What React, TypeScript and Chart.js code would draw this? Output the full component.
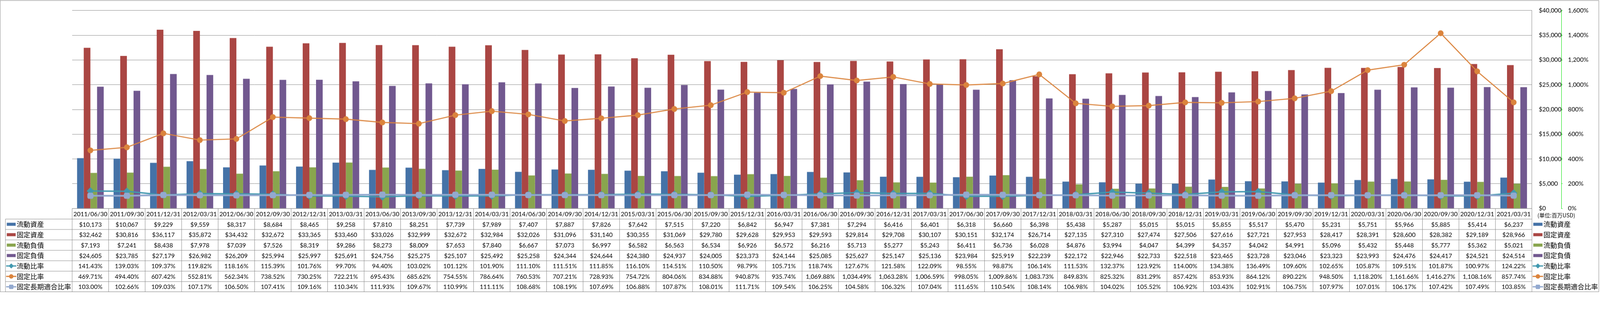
import { useEffect, useRef } from "react";
import { Chart, registerables } from "chart.js";

Chart.register(...registerables);

const categories = [
  "2011/06/30", "2011/09/30", "2011/12/31", "2012/03/31", "2012/06/30", "2012/09/30", "2012/12/31", "2013/03/31",
  "2013/06/30", "2013/09/30", "2013/12/31", "2014/03/31", "2014/06/30", "2014/09/30", "2014/12/31", "2015/03/31",
  "2015/06/30", "2015/09/30", "2015/12/31", "2016/03/31", "2016/06/30", "2016/09/30", "2016/12/31", "2017/03/31",
  "2017/06/30", "2017/09/30", "2017/12/31", "2018/03/31", "2018/06/30", "2018/09/30", "2018/12/31", "2019/03/31",
  "2019/06/30", "2019/09/30", "2019/12/31", "2020/03/31", "2020/06/30", "2020/09/30", "2020/12/31", "2021/03/31",
];

const currentAssets = [
  10173, 10067, 9229, 9559, 8317, 8684, 8465, 9258, 7810, 8251, 7739, 7989, 7407, 7887, 7826, 7642, 7515, 7220, 6842, 6947,
  7381, 7294, 6416, 6401, 6318, 6660, 6398, 5438, 5287, 5015, 5015, 5855, 5517, 5470, 5231, 5751, 5966, 5885, 5414, 6237,
];
const fixedAssets = [
  32462, 30816, 36117, 35872, 34432, 32672, 33365, 33460, 33026, 32999, 32672, 32984, 32026, 31096, 31140, 30355, 31069, 29780, 29628, 29953,
  29593, 29814, 29708, 30107, 30151, 32174, 26714, 27135, 27310, 27474, 27506, 27616, 27721, 27953, 28417, 28391, 28600, 28382, 29189, 28966,
];
const currentLiabilities = [
  7193, 7241, 8438, 7978, 7039, 7526, 8319, 9286, 8273, 8009, 7653, 7840, 6667, 7073, 6997, 6582, 6563, 6534, 6926, 6572,
  6216, 5713, 5277, 5243, 6411, 6736, 6028, 4876, 3994, 4047, 4399, 4357, 4042, 4991, 5096, 5432, 5448, 5777, 5362, 5021,
];
const fixedLiabilities = [
  24605, 23785, 27179, 26982, 26209, 25994, 25997, 25691, 24756, 25275, 25107, 25492, 25258, 24344, 24644, 24380, 24937, 24005, 23373, 24144,
  25085, 25627, 25147, 25136, 23984, 25919, 22239, 22172, 22946, 22733, 22518, 23465, 23728, 23046, 23323, 23993, 24476, 24417, 24521, 24514,
];
const currentRatio = [
  141.43, 139.03, 109.37, 119.82, 118.16, 115.39, 101.76, 99.7, 94.4, 103.02, 101.12, 101.9, 111.1, 111.51, 111.85, 116.1, 114.51, 110.5, 98.79, 105.71,
  118.74, 127.67, 121.58, 122.09, 98.55, 98.87, 106.14, 111.53, 132.37, 123.92, 114.0, 134.38, 136.49, 109.6, 102.65, 105.87, 109.51, 101.87, 100.97, 124.22,
];
const fixedRatio = [
  469.71, 494.4, 607.42, 552.81, 562.34, 738.52, 730.25, 722.21, 695.43, 685.62, 754.55, 786.64, 760.53, 707.21, 728.93, 754.72, 804.06, 834.88, 940.87, 935.74,
  1069.88, 1034.49, 1063.28, 1006.59, 998.05, 1009.86, 1083.73, 849.83, 825.32, 831.29, 857.42, 853.93, 864.12, 890.22, 948.5, 1118.2, 1161.66, 1416.27, 1108.16, 857.74,
];
const fixedLongTermRatio = [
  103.0, 102.66, 109.03, 107.17, 106.5, 107.41, 109.16, 110.34, 111.93, 109.67, 110.99, 111.11, 108.68, 108.19, 107.69, 106.88, 107.87, 108.01, 111.71, 109.54,
  106.25, 104.58, 106.32, 107.04, 111.65, 110.54, 108.14, 106.98, 104.02, 105.52, 106.92, 103.43, 102.91, 106.75, 107.97, 107.01, 106.17, 107.42, 107.49, 103.85,
];

const seriesNames = ["流動資産", "固定資産", "流動負債", "固定負債", "流動比率", "固定比率", "固定長期適合比率"];
const seriesColors = ["#4572A7", "#AA4643", "#89A54E", "#71588F", "#4198AF", "#DB843D", "#93A9CF"];
const seriesKinds = ["bar", "bar", "bar", "bar", "rectRot", "circle", "rectRounded"];
const unitLabel = "(単位:百万USD)";

const GRAY = "#888888";
const AXIS_GREEN = "#00E000";
const LATIN = "Lato, 'Noto Sans', sans-serif";
const CJK = "'Noto Sans CJK JP', sans-serif";

const fmtDollar = (v: number) => "$" + v.toLocaleString("en-US");
const fmtPct = (v: number) =>
  v.toLocaleString("en-US", { minimumFractionDigits: 2, maximumFractionDigits: 2 }) + "%";

function drawMarker(ctx: CanvasRenderingContext2D, kind: string, x: number, y: number, color: string, S: number) {
  ctx.fillStyle = color;
  ctx.beginPath();
  if (kind === "rectRot") {
    const r = 7.5 * S;
    ctx.moveTo(x, y - r);
    ctx.lineTo(x + r, y);
    ctx.lineTo(x, y + r);
    ctx.lineTo(x - r, y);
    ctx.closePath();
  } else if (kind === "circle") {
    ctx.arc(x, y, 6.5 * S, 0, Math.PI * 2);
  } else {
    const h = 6.5 * S;
    const rr = 2.5 * S;
    ctx.moveTo(x - h + rr, y - h);
    ctx.lineTo(x + h - rr, y - h);
    ctx.quadraticCurveTo(x + h, y - h, x + h, y - h + rr);
    ctx.lineTo(x + h, y + h - rr);
    ctx.quadraticCurveTo(x + h, y + h, x + h - rr, y + h);
    ctx.lineTo(x - h + rr, y + h);
    ctx.quadraticCurveTo(x - h, y + h, x - h, y + h - rr);
    ctx.lineTo(x - h, y - h + rr);
    ctx.quadraticCurveTo(x - h, y - h, x - h + rr, y - h);
    ctx.closePath();
  }
  ctx.fill();
}

function drawKey(ctx: CanvasRenderingContext2D, idx: number, x0: number, x1: number, cy: number, S: number) {
  const kind = seriesKinds[idx];
  const color = seriesColors[idx];
  if (kind === "bar") {
    ctx.fillStyle = color;
    ctx.fillRect(x0 + 2 * S, cy - 4.5 * S, x1 - x0 - 4 * S, 9 * S);
  } else {
    ctx.strokeStyle = color;
    ctx.lineWidth = 3.5 * S;
    ctx.beginPath();
    ctx.moveTo(x0, cy);
    ctx.lineTo(x1, cy);
    ctx.stroke();
    drawMarker(ctx, kind, (x0 + x1) / 2, cy, color, S);
  }
}

function makeTablePlugin(S: number) {
  return {
    id: "dataTable",
    beforeDraw(chart: any) {
      const { ctx, width, height } = chart;
      ctx.save();
      ctx.fillStyle = "#ffffff";
      ctx.fillRect(0, 0, width, height);
      ctx.restore();
    },
    afterDraw(chart: any) {
      const ctx: CanvasRenderingContext2D = chart.ctx;
      const xs = chart.scales.x;
      const area = chart.chartArea;
      const n = categories.length;
      const bounds: number[] = [];
      for (let i = 0; i <= n; i++) {
        if (i === 0) bounds.push(area.left);
        else if (i === n) bounds.push(area.right);
        else bounds.push((xs.getPixelForValue(i - 1) + xs.getPixelForValue(i)) / 2);
      }
      const top = area.bottom;
      const rowYs = [top, top + 31 * S];
      for (let r = 1; r <= 7; r++) rowYs.push(top + (31 + r * 30.6) * S);
      const legLeft = 16 * S;

      ctx.save();
      ctx.strokeStyle = GRAY;
      ctx.lineWidth = Math.max(1, S);
      ctx.beginPath();
      ctx.moveTo(area.left, rowYs[0]);
      ctx.lineTo(area.right, rowYs[0]);
      for (let r = 1; r <= 8; r++) {
        ctx.moveTo(legLeft, rowYs[r]);
        ctx.lineTo(area.right, rowYs[r]);
      }
      ctx.moveTo(legLeft, rowYs[1]);
      ctx.lineTo(legLeft, rowYs[8]);
      for (let i = 0; i <= n; i++) {
        ctx.moveTo(bounds[i], rowYs[0]);
        ctx.lineTo(bounds[i], rowYs[8]);
      }
      ctx.stroke();

      ctx.fillStyle = "#000";
      ctx.textAlign = "center";
      ctx.textBaseline = "middle";
      ctx.font = `${18 * S}px ${LATIN}`;
      const rows = [currentAssets, fixedAssets, currentLiabilities, fixedLiabilities, currentRatio, fixedRatio, fixedLongTermRatio];
      for (let i = 0; i < n; i++) {
        const cx = (bounds[i] + bounds[i + 1]) / 2;
        ctx.fillStyle = "#000";
        ctx.fillText(categories[i], cx, (rowYs[0] + rowYs[1]) / 2 + S);
        rows.forEach((arr, r) => {
          const txt = r < 4 ? fmtDollar(arr[i]) : fmtPct(arr[i]);
          ctx.fillText(txt, cx, (rowYs[r + 1] + rowYs[r + 2]) / 2 + S);
        });
      }

      for (let r = 0; r < 7; r++) {
        const cy = (rowYs[r + 1] + rowYs[r + 2]) / 2;
        drawKey(ctx, r, 18 * S, 48 * S, cy, S);
        ctx.fillStyle = "#000";
        ctx.textAlign = "left";
        ctx.font = `${20 * S}px ${CJK}`;
        ctx.fillText(seriesNames[r], 49 * S, cy);

        drawKey(ctx, r, 4503 * S, 4534 * S, cy, S);
        ctx.fillStyle = "#000";
        ctx.fillText(seriesNames[r], 4535 * S, cy);
      }
      ctx.font = `${16 * S}px ${CJK}`;
      ctx.textAlign = "left";
      ctx.fillText(unitLabel, 4517 * S, (rowYs[0] + rowYs[1]) / 2 + 4 * S);

      ctx.strokeStyle = GRAY;
      ctx.lineWidth = Math.max(1, S);
      ctx.strokeRect(0.5 * S, 1.5 * S, 4697 * S, 855 * S);
      ctx.restore();
    },
  };
}

export default function App() {
  const ref = useRef<HTMLCanvasElement>(null);
  const W = typeof window !== "undefined" ? window.innerWidth : 4701;
  const S = W / 4701;
  const H = 858 * S;
  useEffect(() => {
    document.body.style.margin = "0";
    document.body.style.overflow = "hidden";
    Chart.defaults.font.family = LATIN;
    const barDs = (i: number, data: number[]) => ({
      type: "bar" as const,
      label: seriesNames[i],
      data,
      backgroundColor: seriesColors[i],
      borderWidth: 0,
      barPercentage: 1,
      categoryPercentage: 0.73,
      yAxisID: "y",
      order: 10,
    });
    const lineDs = (i: number, data: number[], radius: number, width: number, order: number) => ({
      type: "line" as const,
      label: seriesNames[i],
      data,
      borderColor: seriesColors[i],
      backgroundColor: seriesColors[i],
      pointBackgroundColor: seriesColors[i],
      pointBorderColor: seriesColors[i],
      pointBorderWidth: 0,
      pointStyle: seriesKinds[i] as any,
      pointRadius: radius * S,
      borderWidth: width * S,
      tension: 0,
      fill: false,
      yAxisID: "y1",
      order,
    });
    const chart = new Chart(ref.current!, {
      type: "bar",
      data: {
        labels: categories,
        datasets: [
          barDs(0, currentAssets),
          barDs(1, fixedAssets),
          barDs(2, currentLiabilities),
          barDs(3, fixedLiabilities),
          lineDs(4, currentRatio, 11, 4, 3),
          lineDs(5, fixedRatio, 8.5, 3, 2),
          lineDs(6, fixedLongTermRatio, 10.5, 5, 1),
        ] as any,
      },
      options: {
        animation: false,
        responsive: true,
        maintainAspectRatio: false,
        layout: { padding: { left: 212 * S, top: 13 * S, right: 3 * S, bottom: 246 * S } },
        plugins: { legend: { display: false }, tooltip: { enabled: false } },
        scales: {
          x: { display: false, offset: true, grid: { display: false } },
          y: {
            position: "right",
            weight: 0,
            min: 0,
            max: 40000,
            ticks: {
              stepSize: 5000,
              padding: 20 * S,
              color: "#000",
              font: { family: LATIN, size: 18 * S },
              callback: (v: any) => "$" + Number(v).toLocaleString("en-US"),
            },
            grid: { color: GRAY, drawTicks: false, lineWidth: Math.max(1, S) },
            border: { display: true, color: GRAY, width: Math.max(1, S) },
            afterFit: (s: any) => {
              s.width = 87 * S;
            },
          },
          y1: {
            position: "right",
            weight: 1,
            min: 0,
            max: 1600,
            ticks: {
              stepSize: 200,
              padding: 16 * S,
              color: "#000",
              font: { family: LATIN, size: 18 * S },
              callback: (v: any) => Number(v).toLocaleString("en-US") + "%",
            },
            grid: { drawOnChartArea: false, drawTicks: true, tickLength: 3 * S, tickColor: AXIS_GREEN },
            border: { display: true, color: AXIS_GREEN, dash: [4 * S, 3 * S] },
            afterFit: (s: any) => {
              s.width = 110 * S;
            },
          },
        } as any,
      },
      plugins: [makeTablePlugin(S)],
    });
    return () => chart.destroy();
  }, []);
  return (
    <div style={{ width: W, height: H, position: "relative" }}>
      <canvas ref={ref} />
    </div>
  );
}
